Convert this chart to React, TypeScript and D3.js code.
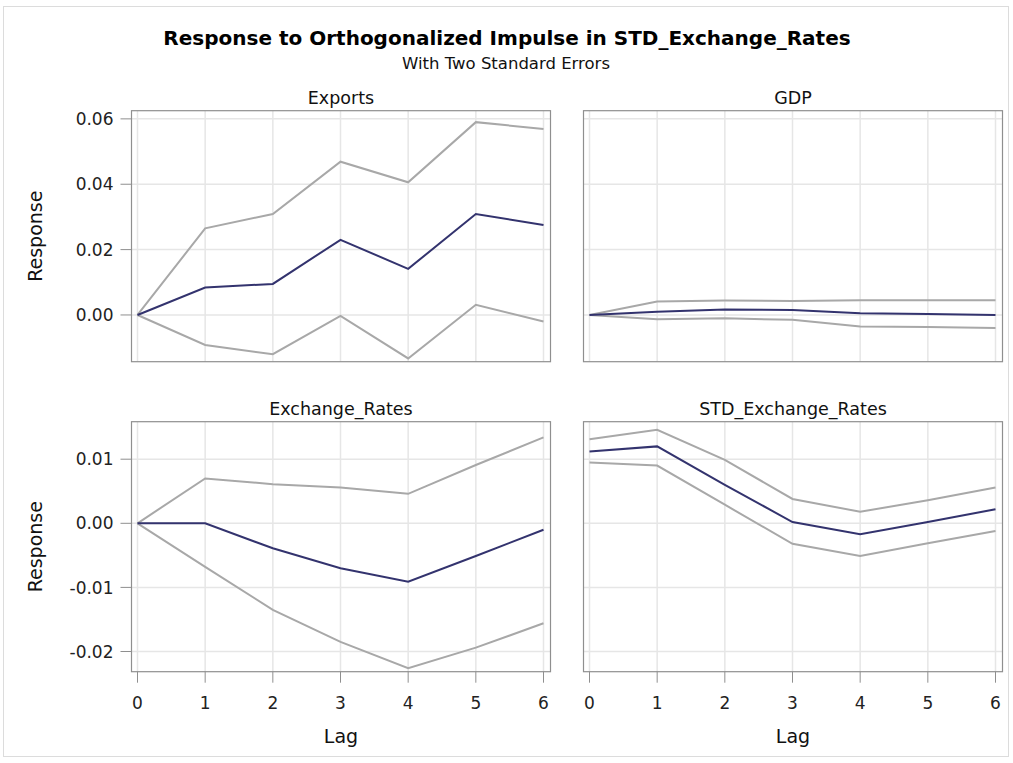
import React, { useRef, useEffect } from "react";
import * as d3 from "d3";

const W = 1013;
const H = 763;
const FONT = "'DejaVu Sans', Verdana, sans-serif";

const LAGS = [0, 1, 2, 3, 4, 5, 6];
const PANEL_NAMES = ["Exports", "GDP", "Exchange_Rates", "STD_Exchange_Rates"];

// responses, one value per lag
const exportsResp = [0, 0.0084, 0.0095, 0.023, 0.0141, 0.0309, 0.0275];
const exportsUpper = [0, 0.0265, 0.0309, 0.0469, 0.0406, 0.059, 0.0569];
const exportsLower = [0, -0.0092, -0.012, -0.0003, -0.0133, 0.0031, -0.002];

const gdpResp = [0, 0.001, 0.0017, 0.0015, 0.0005, 0.0003, 0.0];
const gdpUpper = [0, 0.0041, 0.0044, 0.0043, 0.0045, 0.0045, 0.0045];
const gdpLower = [0, -0.0013, -0.001, -0.0015, -0.0035, -0.0037, -0.004];

const exchResp = [0, 0.0, -0.0039, -0.007, -0.0091, -0.0051, -0.001];
const exchUpper = [0, 0.007, 0.0061, 0.0056, 0.0046, 0.0091, 0.0134];
const exchLower = [0, -0.0068, -0.0135, -0.0185, -0.0226, -0.0194, -0.0156];

const stdResp = [0.0112, 0.012, 0.006, 0.0002, -0.0017, 0.0002, 0.0022];
const stdUpper = [0.0131, 0.0146, 0.0099, 0.0038, 0.0018, 0.0036, 0.0056];
const stdLower = [0.0095, 0.009, 0.0029, -0.0032, -0.0051, -0.0031, -0.0012];

// y axis per row (shared across the row)
const topDomain = [-0.0143, 0.0625];
const topTicks = [0.0, 0.02, 0.04, 0.06];
const topTickLabels = ["0.00", "0.02", "0.04", "0.06"];
const bottomDomain = [-0.02315, 0.01585];
const bottomTicks = [-0.02, -0.01, 0.0, 0.01];
const bottomTickLabels = ["-0.02", "-0.01", "0.00", "0.01"];

const series = [
  { resp: exportsResp, upper: exportsUpper, lower: exportsLower },
  { resp: gdpResp, upper: gdpUpper, lower: gdpLower },
  { resp: exchResp, upper: exchUpper, lower: exchLower },
  { resp: stdResp, upper: stdUpper, lower: stdLower },
];

// layout
const COL_X0 = [137.5, 589.5];
const LAG_SPAN = 406;
const FRAME_PAD_L = 6;
const FRAME_PAD_R = 7;
const ROW_TOP = [110.7, 421.7];
const ROW_BOTTOM = [361.7, 671.7];

const GRID = "#e6e6e6";
const FRAME = "#8f8f8f";
const BAND_LINE = "#a8a8a8";
const RESP_LINE = "#33336e";

export default function App() {
  const svgRef = useRef<SVGSVGElement>(null);

  useEffect(() => {
    const svg = d3.select(svgRef.current);
    svg.selectAll("*").remove();

    svg.append("rect").attr("width", W).attr("height", H).attr("fill", "#fff");
    svg
      .append("rect")
      .attr("x", 3.5)
      .attr("y", 6.5)
      .attr("width", 1005)
      .attr("height", 750)
      .attr("fill", "none")
      .attr("stroke", "#dcdcdc");

    // Titles
    svg
      .append("text")
      .attr("x", 507)
      .attr("y", 45)
      .attr("text-anchor", "middle")
      .attr("font-family", FONT)
      .attr("font-weight", "bold")
      .attr("font-size", 20)
      .attr("fill", "#000")
      .text("Response to Orthogonalized Impulse in STD_Exchange_Rates");
    svg
      .append("text")
      .attr("x", 506)
      .attr("y", 69)
      .attr("text-anchor", "middle")
      .attr("font-family", FONT)
      .attr("font-size", 16.5)
      .attr("fill", "#111")
      .text("With Two Standard Errors");

    PANEL_NAMES.forEach((name, i) => {
      const col = i % 2;
      const row = Math.floor(i / 2);
      const x0 = COL_X0[col];
      const fx0 = x0 - FRAME_PAD_L;
      const fx1 = x0 + LAG_SPAN + FRAME_PAD_R;
      const fy0 = ROW_TOP[row];
      const fy1 = ROW_BOTTOM[row];

      const x = d3.scaleLinear().domain([0, 6]).range([x0, x0 + LAG_SPAN]);
      const y = d3
        .scaleLinear()
        .domain(row === 0 ? topDomain : bottomDomain)
        .range([fy1, fy0]);
      const ticks = row === 0 ? topTicks : bottomTicks;
      const tickLabels = row === 0 ? topTickLabels : bottomTickLabels;

      const g = svg.append("g");

      // grid
      g.selectAll(".vgrid")
        .data(LAGS)
        .join("line")
        .attr("x1", (d) => x(d))
        .attr("x2", (d) => x(d))
        .attr("y1", fy0)
        .attr("y2", fy1)
        .attr("stroke", GRID)
        .attr("stroke-width", 1.5);
      g.selectAll(".hgrid")
        .data(ticks)
        .join("line")
        .attr("x1", fx0)
        .attr("x2", fx1)
        .attr("y1", (d) => y(d))
        .attr("y2", (d) => y(d))
        .attr("stroke", GRID)
        .attr("stroke-width", 1.5);

      const s = series[i];
      const pts = LAGS.map((l, k) => ({ l, r: s.resp[k], u: s.upper[k], lo: s.lower[k] }));

      const line = (key: string) =>
        d3
          .line<any>()
          .x((d) => x(d.l))
          .y((d) => y(d[key]));

      // two standard error bounds, then the response
      ["u", "lo"].forEach((k) => {
        g.append("path")
          .datum(pts)
          .attr("d", line(k))
          .attr("fill", "none")
          .attr("stroke", BAND_LINE)
          .attr("stroke-width", 2);
      });
      g.append("path")
        .datum(pts)
        .attr("d", line("r"))
        .attr("fill", "none")
        .attr("stroke", RESP_LINE)
        .attr("stroke-width", 2);

      // frame
      g.append("rect")
        .attr("x", fx0)
        .attr("y", fy0)
        .attr("width", fx1 - fx0)
        .attr("height", fy1 - fy0)
        .attr("fill", "none")
        .attr("stroke", FRAME)
        .attr("stroke-width", 1.2);

      // header
      g.append("text")
        .attr("x", (fx0 + fx1) / 2)
        .attr("y", fy0 - 7)
        .attr("text-anchor", "middle")
        .attr("font-family", FONT)
        .attr("font-size", 17.5)
        .attr("fill", "#111")
        .text(name);

      // y axis on left column
      if (col === 0) {
        g.selectAll(".ytick")
          .data(ticks)
          .join("line")
          .attr("x1", fx0 - 11)
          .attr("x2", fx0)
          .attr("y1", (d) => y(d))
          .attr("y2", (d) => y(d))
          .attr("stroke", FRAME);
        g.selectAll(".ylab")
          .data(ticks)
          .join("text")
          .attr("x", fx0 - 18)
          .attr("y", (d) => y(d))
          .attr("dy", "0.36em")
          .attr("text-anchor", "end")
          .attr("font-family", FONT)
          .attr("font-size", 17)
          .attr("fill", "#222")
          .text((d, k) => tickLabels[k]);
        g.append("text")
          .attr("transform", `translate(42,${(fy0 + fy1) / 2}) rotate(-90)`)
          .attr("text-anchor", "middle")
          .attr("font-family", FONT)
          .attr("font-size", 19)
          .attr("fill", "#111")
          .text("Response");
      }

      // x axis on bottom row
      if (row === 1) {
        g.selectAll(".xtick")
          .data(LAGS)
          .join("line")
          .attr("x1", (d) => x(d))
          .attr("x2", (d) => x(d))
          .attr("y1", fy1)
          .attr("y2", fy1 + 11)
          .attr("stroke", FRAME);
        g.selectAll(".xlab")
          .data(LAGS)
          .join("text")
          .attr("x", (d) => x(d))
          .attr("y", fy1 + 37)
          .attr("text-anchor", "middle")
          .attr("font-family", FONT)
          .attr("font-size", 17)
          .attr("fill", "#222")
          .text((d) => String(d));
        g.append("text")
          .attr("x", (fx0 + fx1) / 2)
          .attr("y", 743)
          .attr("text-anchor", "middle")
          .attr("font-family", FONT)
          .attr("font-size", 19)
          .attr("fill", "#111")
          .text("Lag");
      }
    });
  }, []);

  return (
    <svg
      ref={svgRef}
      width={W}
      height={H}
      style={{ position: "absolute", left: 0, top: 0, display: "block" }}
    />
  );
}
